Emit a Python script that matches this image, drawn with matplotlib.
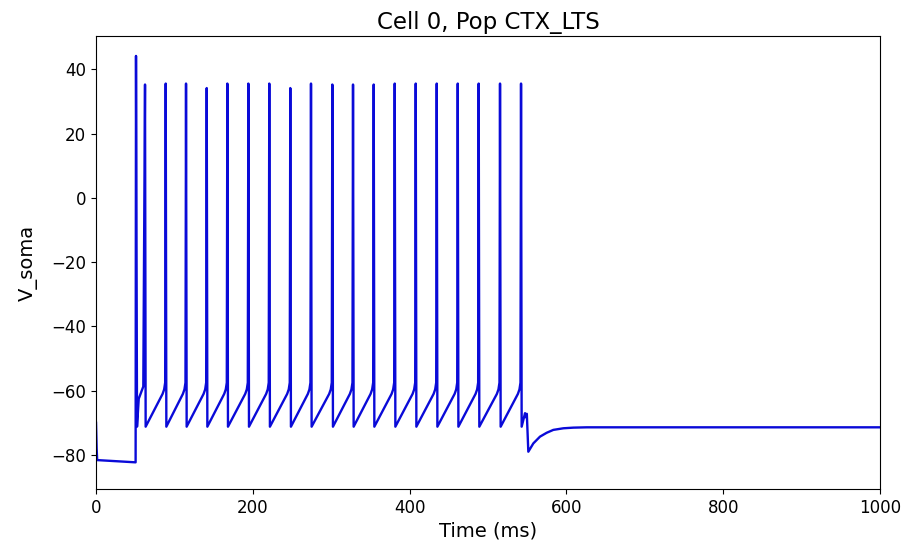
import numpy as np
import matplotlib
matplotlib.use("Agg")
import matplotlib.pyplot as plt

# spike times (ms) and peak voltages
spike_times = [51.0, 62.5, 88.9, 114.8, 141.2, 167.5, 194.3, 221.0, 247.8, 274.2,
               301.4, 327.8, 354.2, 381.0, 407.8, 434.6, 461.4, 488.1, 515.3, 542.1]
spike_peaks = [44.2, 35.3, 35.6, 35.6, 34.2, 35.6, 35.6, 35.6, 34.2, 35.6,
               35.3, 35.3, 35.3, 35.6, 35.6, 35.6, 35.6, 35.6, 35.6, 35.6]
trough_v = -71.2       # reset after each spike
ramp_v = [-61.0, -59.6, -57.5]   # voltages 4, 2 and 0.7 ms before the upstroke
ramp_dt = [4.0, 2.0, 0.7]

# resting part before the current step
pre_t = [0.0, 0.8, 1.5, 50.5]
pre_v = [-70.0, -78.0, -81.6, -82.3]

# first interspike interval (fast rise after the first spike)
first_isi_t = [52.3, 54.5, 60.3]
first_isi_v = [-71.2, -62.5, -58.7]

# after the step ends
post_t = [542.9, 547.2, 548.5, 549.5, 551.4, 557.8, 566.3, 574.8, 583.3,
          596.1, 608.8, 625.9, 1000.0]
post_v = [-71.2, -67.0, -68.3, -67.2, -79.0, -76.4, -74.3, -73.1, -72.2,
          -71.7, -71.5, -71.4, -71.4]

t = list(pre_t)
v = list(pre_v)
for i, (s, p) in enumerate(zip(spike_times, spike_peaks)):
    if i == 1:
        t += first_isi_t
        v += first_isi_v
    elif i > 1:
        t.append(spike_times[i - 1] + 0.8)
        v.append(trough_v)
        t += [s - d for d in ramp_dt]
        v += ramp_v
    t.append(s)
    v.append(p)
t += post_t
v += post_v

plt.rcParams['font.size'] = 12

fig = plt.figure(figsize=(9.11, 5.49), dpi=100)
ax = fig.add_axes([0.1054, 0.1087, 0.8606, 0.8257])
ax.plot(t, v, color='#0a0ad8', linewidth=1.7)

ax.set_xlim(0, 1000)
ax.set_ylim(-90.7, 50.4)
ax.set_xticks([0, 200, 400, 600, 800, 1000])
ax.set_yticks([-80, -60, -40, -20, 0, 20, 40])
ax.set_title('Cell 0, Pop CTX_LTS', fontsize=16.5, pad=5)
ax.set_xlabel('Time (ms)', fontsize=14, labelpad=3)
ax.set_ylabel('V_soma', fontsize=14, labelpad=10)

fig.savefig('out.png', dpi=100)
